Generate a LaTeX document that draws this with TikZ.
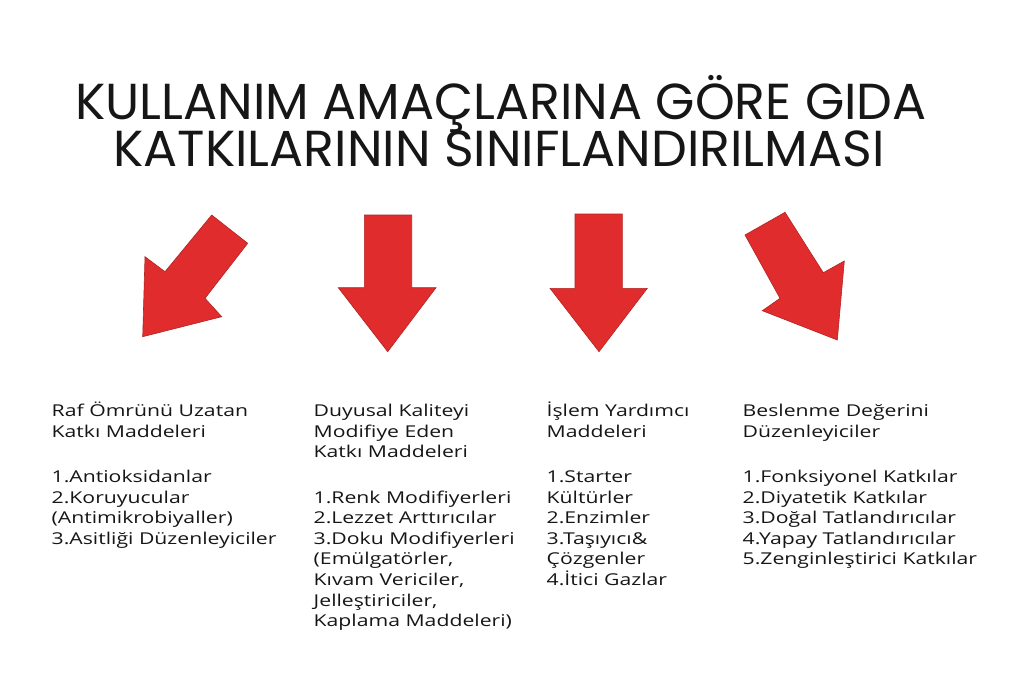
\documentclass[tikz,border=0pt]{standalone}
\usepackage{fontspec}
\setmainfont{Open Sans}[FakeStretch=1.3]
\newfontfamily\titlefont{Poppins}
\usepackage{tikz}
\usetikzlibrary{positioning}
\usepackage{xcolor}
\definecolor{arrowred}{RGB}{224,44,44}
\definecolor{ink}{RGB}{22,22,22}

\tikzset{
  blockarrow/.style={fill=arrowred, draw=arrowred!80!black, line width=0.6pt, line join=miter},
  title/.style={font=\titlefont\fontsize{50.6}{56}\selectfont, text=ink, anchor=base, inner sep=0pt},
  colhead/.style={font=\fontsize{16.3}{20.6}\selectfont, text=ink, align=left, anchor=base west, inner sep=0pt},
  collist/.style={colhead}
}

\begin{document}
\begin{tikzpicture}[x=1pt,y=-1pt] %% 1 unit = 1 px of the picture
            \useasboundingbox[fill=white] (0,0) rectangle (1024,695);

            \node[title] (titleA) at (501,119.5) {KULLANIM AMAÇLARINA GÖRE GIDA};
            \node[title] (titleB) at (499,166.5) {KATKILARININ SINIFLANDIRILMASI};

            % arrows
            \draw[blockarrow] (211.7,215) -- (247.7,243.3) -- (205,298.3) -- (221.7,316.7) -- (142.7,336.7) -- (145,256.7) -- (165,271.7) -- cycle;
            \draw[blockarrow] (364.3,215) -- (411.7,215) -- (411.7,287.7) -- (436,287.7) -- (387.7,351.7) -- (338.3,287.7) -- (364.3,287.7) -- cycle;
            \draw[blockarrow] (575,214) -- (622.3,214) -- (622.3,288.3) -- (647.3,288.3) -- (599,351.7) -- (550,288.3) -- (575,288.3) -- cycle;
            \draw[blockarrow] (785,212.3) -- (823.3,272.7) -- (844.3,261) -- (837.3,340) -- (762.3,310.7) -- (780,298.3) -- (745,235) -- cycle;

            % columns (nodes sit on the baseline of their last line)
            \node[colhead] (shelf) at (51.5,437.1) {Raf Ömrünü Uzatan\\Katkı Maddeleri};
            \node[collist] (shelflist) at (51.5,544.3) {1.Antioksidanlar\\2.Koruyucular\\(Antimikrobiyaller)\\3.Asitliği Düzenleyiciler};

            \node[colhead] (sense) at (313.5,457.7) {Duyusal Kaliteyi\\Modifiye Eden\\Katkı Maddeleri};
            \node[collist] (senselist) at (313.5,626.6) {1.Renk Modifiyerleri\\2.Lezzet Arttırıcılar\\3.Doku Modifiyerleri\\(Emülgatörler,\\Kıvam Vericiler,\\Jelleştiriciler,\\Kaplama Maddeleri)};

            \node[colhead] (process) at (546.5,437.1) {İşlem Yardımcı\\Maddeleri};
            \node[collist] (processlist) at (546.5,585.5) {1.Starter\\Kültürler\\2.Enzimler\\3.Taşıyıcı\&\\Çözgenler\\4.İtici Gazlar};

            \node[colhead] (diet) at (742.5,437.1) {Beslenme Değerini\\Düzenleyiciler};
            \node[collist] (dietlist) at (742.5,564.9) {1.Fonksiyonel Katkılar\\2.Diyatetik Katkılar\\3.Doğal Tatlandırıcılar\\4.Yapay Tatlandırıcılar\\5.Zenginleştirici Katkılar};
\end{tikzpicture}
\end{document}
